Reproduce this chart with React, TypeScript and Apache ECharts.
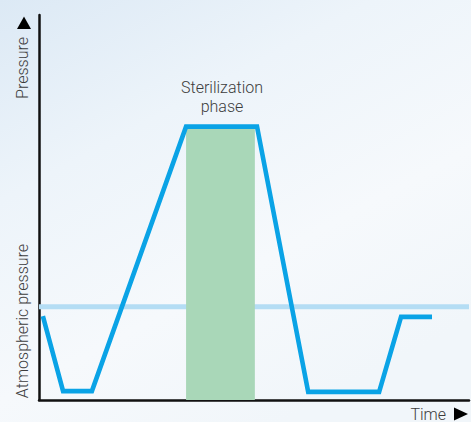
import React, { useEffect, useRef } from "react";
import * as echarts from "echarts";

// Time positions (arbitrary units, 0–100) and pressure (arbitrary units, 0–100)
const timePoints = [0.9, 5.6, 12.3, 34.2, 50.7, 62.6, 79.1, 84.2, 91.4];
const pressureValues = [21.8, 2.3, 2.3, 71, 71, 2.1, 2.1, 21.6, 21.6];
const atmosphericPressure = 24.2;
const sterilizationPhase = [34.2, 50.2];
const sterilizationTop = 70.6;
const axisLabels = { y: "Pressure", atm: "Atmospheric pressure", x: "Time", phase: "Sterilization\nphase" };

export default function App() {
  const ref = useRef<HTMLDivElement>(null);
  useEffect(() => {
    if (!ref.current) return;
    const chart = echarts.init(ref.current, null, { renderer: "svg" });
    const font = "Roboto, 'Noto Sans', sans-serif";
    const textColor = "#3c3c3c";
    chart.setOption({
      animation: false,
      backgroundColor: {
        type: "linear",
        x: 0, y: 0, x2: 0.6, y2: 1,
        colorStops: [
          { offset: 0, color: "#dce9f5" },
          { offset: 0.35, color: "#edf4fa" },
          { offset: 0.7, color: "#f6f9fc" },
          { offset: 1, color: "#f1f6fa" },
        ],
      },
      grid: { left: 39, right: 2, top: 15, bottom: 22 },
      xAxis: {
        type: "value",
        min: 0,
        max: 100,
        axisLine: { show: true, lineStyle: { color: "#111", width: 2.5 } },
        axisTick: { show: false },
        axisLabel: { show: false },
        splitLine: { show: false },
      },
      yAxis: {
        type: "value",
        min: 0,
        max: 100,
        axisLine: { show: true, lineStyle: { color: "#111", width: 2.5 } },
        axisTick: { show: false },
        axisLabel: { show: false },
        splitLine: { show: false },
      },
      series: [
        {
          type: "line",
          data: [[0, atmosphericPressure], [100, atmosphericPressure]],
          symbol: "none",
          lineStyle: { color: "#b4ddf4", width: 5 },
          z: 1,
          silent: true,
        },
        {
          type: "line",
          data: [],
          z: 3,
          silent: true,
          markArea: {
            z: 3,
            silent: true,
            itemStyle: { color: "#a9d7b8" },
            data: [[{ coord: [sterilizationPhase[0], 0] }, { coord: [sterilizationPhase[1], sterilizationTop] }]],
          },
        },
        {
          type: "line",
          data: timePoints.map((t, i) => [t, pressureValues[i]]),
          symbol: "none",
          lineStyle: { color: "#0aa3e6", width: 4.6, join: "miter", cap: "butt" },
          z: 6,
        },
      ],
      graphic: [
        {
          type: "text",
          x: 22,
          y: 68,
          rotation: Math.PI / 2,
          style: { text: axisLabels.y, font: `300 16px ${font}`, fill: textColor, align: "center", verticalAlign: "middle" },
        },
        {
          type: "polygon",
          shape: { points: [[17, 29], [24, 16.5], [31, 29]] },
          style: { fill: "#000" },
        },
        {
          type: "text",
          x: 22,
          y: 321,
          rotation: Math.PI / 2,
          style: { text: axisLabels.atm, font: `300 16px ${font}`, fill: textColor, align: "center", verticalAlign: "middle" },
        },
        {
          type: "text",
          x: 446,
          y: 414,
          style: { text: axisLabels.x, font: `300 16px ${font}`, fill: textColor, align: "right", verticalAlign: "middle" },
        },
        {
          type: "polygon",
          shape: { points: [[454, 407.5], [468, 414], [454, 420.5]] },
          style: { fill: "#000" },
        },
        {
          type: "text",
          x: 222,
          y: 97,
          style: { text: axisLabels.phase, font: `300 16px ${font}`, fill: textColor, align: "center", verticalAlign: "middle", lineHeight: 19 },
        },
      ],
    });
    return () => chart.dispose();
  }, []);
  return <div ref={ref} style={{ position: "absolute", left: 0, top: 0, width: 471, height: 422 }} />;
}
